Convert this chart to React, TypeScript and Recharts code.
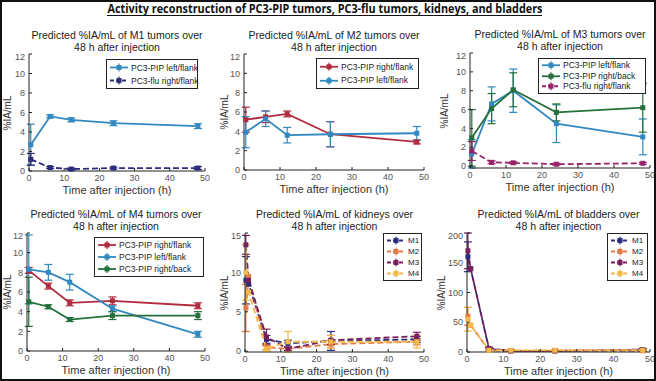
import { LineChart, Line, XAxis, YAxis, ErrorBar, Legend } from "recharts";

const tumorHours = [0.5, 6, 12, 24, 48];
const organHours = [0.25, 1, 6, 12, 24, 48];
const hourTicks = [0, 10, 20, 30, 40, 50];
const tumorTicks = [0, 2, 4, 6, 8, 10, 12];
const kidneyTicks = [0, 5, 10, 15];
const bladderTicks = [0, 50, 100, 150, 200];

// M1 tumors
const m1PipLeft = [2.7, 5.6, 5.25, 4.9, 4.6];
const m1PipLeftErr = [2.1, 0.15, 0.2, 0.25, 0.25];
const m1FluRight = [1.2, 0.35, 0.2, 0.3, 0.3];
const m1FluRightErr = [0.6, 0.1, 0.1, 0.1, 0.15];

// M2 tumors
const m2PipRight = [5.2, 5.5, 5.8, 3.7, 2.9];
const m2PipRightErr = [1.3, 0.6, 0.3, 1.3, 0.2];
const m2PipLeft = [3.9, 5.3, 3.6, 3.7, 3.8];
const m2PipLeftErr = [1.6, 0.8, 0.8, 1.3, 0.7];

// M3 tumors
const m3PipLeft = [1.3, 6.6, 8.0, 4.5, 3.1];
const m3PipLeftErr = [1.5, 1.8, 2.3, 2.0, 1.9];
const m3PipBack = [3.0, 6.1, 8.1, 5.7, 6.2];
const m3PipBackErr = [3.0, 1.6, 1.8, 0.9, 2.6];
const m3FluRight = [1.6, 0.4, 0.35, 0.2, 0.3];
const m3FluRightErr = [1.0, 0.15, 0.1, 0.1, 0.1];

// M4 tumors
const m4PipRight = [8.2, 6.6, 4.9, 5.1, 4.6];
const m4PipRightErr = [0.3, 0.3, 0.3, 0.4, 0.3];
const m4PipLeft = [8.3, 8.0, 7.0, 4.3, 1.7];
const m4PipLeftErr = [3.5, 0.8, 0.8, 0.3, 0.3];
const m4PipBack = [5.0, 4.5, 3.2, 3.6, 3.6];
const m4PipBackErr = [2.5, 0.2, 0.2, 0.4, 0.4];

// kidneys
const kidM1 = [9.0, 8.5, 1.5, 1.0, 1.3, 1.5];
const kidM1Err = [3.0, 0, 0.5, 0.4, 1.2, 0.4];
const kidM2 = [5.5, 9.5, 0.5, 0.3, 0.9, 1.2];
const kidM2Err = [3.0, 0, 0.3, 0.2, 0.5, 0.4];
const kidM3 = [13.5, 9.0, 1.8, 0.3, 1.4, 1.9];
const kidM3Err = [1.2, 0, 1.0, 0.2, 0.6, 0.5];
const kidM4 = [10.0, 7.5, 0.3, 1.2, 1.2, 1.2];
const kidM4Err = [3.5, 0, 0.3, 1.3, 0.8, 0.8];

// bladders
const bladM1 = [160, 140, 5, 2, 2, 3];
const bladM1Err = [25, 0, 2, 1, 1, 2];
const bladM2 = [60, 45, 3, 2, 2, 2];
const bladM2Err = [15, 0, 1, 1, 1, 1];
const bladM3 = [170, 140, 6, 2, 2, 4];
const bladM3Err = [30, 0, 2, 1, 1, 2];
const bladM4 = [55, 45, 3, 3, 3, 3];
const bladM4Err = [20, 0, 1, 1, 1, 1];

const BLUE = "#3189c0";
const RED = "#b22a3e";
const GREEN = "#25703a";
const NAVY = "#2c2c7c";
const MAGENTA = "#97246a";
const ORANGE = "#e57a41";
const PURPLE = "#77205c";
const GOLD = "#f3b949";

const FONT = '"Liberation Sans", Arial, sans-serif';

type Series = {
  key: string;
  name: string;
  color: string;
  dashed?: boolean;
  values: number[];
  errors: number[];
};

type LegendPos = { left: number; top: number; width: number; font: number; rowH: number };

type PanelProps = {
  x: number;
  y: number;
  w: number;
  h: number;
  title: string[];
  hours: number[];
  series: Series[];
  yTicks: number[];
  yLabelDx?: number;
  legend: LegendPos;
};

const buildRows = (hours: number[], series: Series[]) =>
  hours.map((hour, i) => {
    const row: Record<string, number> = { hour };
    series.forEach((s) => {
      row[s.key] = s.values[i];
      row[s.key + "Err"] = s.errors[i];
    });
    return row;
  });

const squareDot = (color: string) => (props: any) => {
  const { cx, cy, index } = props;
  if (cx == null || cy == null) return <g key={index} />;
  return <rect key={index} x={cx - 2.5} y={cy - 2.5} width={5} height={5} fill={color} stroke="none" />;
};

// legend drawn in series order (recharts sorts its payload by name)
function LegendBox({ series, pos }: { series: Series[]; pos: LegendPos }) {
  return (
    <div
      style={{
        border: "1px solid #222",
        background: "#fff",
        width: pos.width,
        padding: "1px 2px",
        boxSizing: "border-box",
        fontFamily: FONT,
      }}
    >
      {series.map((s) => {
        const mid = pos.rowH / 2;
        return (
          <div
            key={s.key}
            style={{
              display: "flex",
              alignItems: "center",
              height: pos.rowH,
              fontSize: pos.font,
              color: "#222",
              whiteSpace: "nowrap",
            }}
          >
            <svg width={20} height={pos.rowH} style={{ flex: "none" }}>
              <line x1={1} x2={19} y1={mid} y2={mid} stroke={s.color} strokeWidth={1.8} strokeDasharray={s.dashed ? "4 2" : undefined} />
              <line x1={10} x2={10} y1={mid - 4} y2={mid + 4} stroke={s.color} strokeWidth={1.2} />
              <rect x={7.5} y={mid - 2.5} width={5} height={5} fill={s.color} />
            </svg>
            <span style={{ marginLeft: 2 }}>{s.name}</span>
          </div>
        );
      })}
    </div>
  );
}

const AXIS = "#222";
const tickStyle = { fontSize: 9, fill: "#555", fontFamily: FONT };

function Panel({ x, y, w, h, title, hours, series, yTicks, yLabelDx = -21, legend }: PanelProps) {
  const rows = buildRows(hours, series);
  const padL = 32;
  const padT = 2;
  const padR = 10;
  const padB = 36;
  const yMax = yTicks[yTicks.length - 1];
  return (
    <>
      <div
        style={{
          position: "absolute",
          left: x - 20,
          top: y - 24,
          width: w + 40,
          textAlign: "center",
          fontSize: 10.5,
          lineHeight: "11.5px",
          color: "#222",
        }}
      >
        {title.map((t) => (
          <div key={t}>{t}</div>
        ))}
      </div>
      <div
        style={{
          position: "absolute",
          left: x,
          top: y + h + 13,
          width: w,
          textAlign: "center",
          fontSize: 11,
          lineHeight: "13px",
          color: "#333",
        }}
      >
        Time after injection (h)
      </div>
      <div
        style={{
          position: "absolute",
          left: x + yLabelDx - 40,
          top: y + h / 2 - 6,
          width: 80,
          height: 12,
          lineHeight: "12px",
          textAlign: "center",
          fontSize: 10,
          color: "#333",
          transform: "rotate(-90deg)",
        }}
      >
        %IA/mL
      </div>
      <div style={{ position: "absolute", left: x - padL, top: y - padT }}>
        <LineChart
          width={w + padL + padR}
          height={h + padT + padB}
          data={rows}
          margin={{ top: padT, right: padR, bottom: 0, left: 0 }}
        >
          <XAxis
            dataKey="hour"
            type="number"
            domain={[0, 50]}
            ticks={hourTicks}
            height={padB}
            stroke={AXIS}
            tickSize={-3}
            tickMargin={7}
            tick={tickStyle}
          />
          <XAxis
            xAxisId="top"
            orientation="top"
            dataKey="hour"
            type="number"
            domain={[0, 50]}
            ticks={hourTicks}
            height={0}
            stroke={AXIS}
            tickSize={-3}
            tickFormatter={() => ""}
          />
          <YAxis
            type="number"
            domain={[0, yMax]}
            ticks={yTicks}
            width={padL}
            stroke={AXIS}
            tickSize={-3}
            tickMargin={7}
            tick={tickStyle}
          />
          <YAxis
            yAxisId="right"
            orientation="right"
            type="number"
            domain={[0, yMax]}
            ticks={yTicks}
            width={0}
            stroke={AXIS}
            tickSize={-3}
            tickFormatter={() => ""}
          />
          <Legend
            layout="horizontal"
            verticalAlign="middle"
            align="center"
            wrapperStyle={{ left: padL + legend.left, top: padT + legend.top, width: legend.width }}
            content={() => <LegendBox series={series} pos={legend} />}
          />
          {series.map((s) => (
            <Line
              key={s.key}
              dataKey={s.key}
              name={s.name}
              type="linear"
              stroke={s.color}
              strokeWidth={1.8}
              strokeDasharray={s.dashed ? "6 3" : undefined}
              dot={squareDot(s.color)}
              activeDot={false}
              isAnimationActive={false}
            >
              <ErrorBar dataKey={s.key + "Err"} direction="y" width={4} stroke={s.color} strokeWidth={1.2} />
            </Line>
          ))}
        </LineChart>
      </div>
    </>
  );
}

const panelTitle = (what: string) => [`Predicted %IA/mL of ${what} over`, "48 h after injection"];

export default function App() {
  const m1: Series[] = [
    { key: "pipLeft", name: "PC3-PIP left/flank", color: BLUE, values: m1PipLeft, errors: m1PipLeftErr },
    { key: "fluRight", name: "PC3-flu right/flank", color: NAVY, dashed: true, values: m1FluRight, errors: m1FluRightErr },
  ];
  const m2: Series[] = [
    { key: "pipRight", name: "PC3-PIP right/flank", color: RED, values: m2PipRight, errors: m2PipRightErr },
    { key: "pipLeft", name: "PC3-PIP left/flank", color: BLUE, values: m2PipLeft, errors: m2PipLeftErr },
  ];
  const m3: Series[] = [
    { key: "pipLeft", name: "PC3-PIP left/flank", color: BLUE, values: m3PipLeft, errors: m3PipLeftErr },
    { key: "pipBack", name: "PC3-PIP right/back", color: GREEN, values: m3PipBack, errors: m3PipBackErr },
    { key: "fluRight", name: "PC3-flu right/flank", color: MAGENTA, dashed: true, values: m3FluRight, errors: m3FluRightErr },
  ];
  const m4: Series[] = [
    { key: "pipRight", name: "PC3-PIP right/flank", color: RED, values: m4PipRight, errors: m4PipRightErr },
    { key: "pipLeft", name: "PC3-PIP left/flank", color: BLUE, values: m4PipLeft, errors: m4PipLeftErr },
    { key: "pipBack", name: "PC3-PIP right/back", color: GREEN, values: m4PipBack, errors: m4PipBackErr },
  ];
  const kidneys: Series[] = [
    { key: "m1", name: "M1", color: NAVY, dashed: true, values: kidM1, errors: kidM1Err },
    { key: "m2", name: "M2", color: ORANGE, dashed: true, values: kidM2, errors: kidM2Err },
    { key: "m3", name: "M3", color: PURPLE, dashed: true, values: kidM3, errors: kidM3Err },
    { key: "m4", name: "M4", color: GOLD, dashed: true, values: kidM4, errors: kidM4Err },
  ];
  const bladders: Series[] = [
    { key: "m1", name: "M1", color: NAVY, dashed: true, values: bladM1, errors: bladM1Err },
    { key: "m2", name: "M2", color: ORANGE, dashed: true, values: bladM2, errors: bladM2Err },
    { key: "m3", name: "M3", color: PURPLE, dashed: true, values: bladM3, errors: bladM3Err },
    { key: "m4", name: "M4", color: GOLD, dashed: true, values: bladM4, errors: bladM4Err },
  ];

  return (
    <div
      style={{
        position: "absolute",
        left: 0,
        top: 0,
        width: 656,
        height: 381,
        background: "#fff",
        overflow: "hidden",
        fontFamily: FONT,
      }}
    >
      <svg width={656} height={22} style={{ position: "absolute", left: 0, top: 0 }}>
        <text
          x={325}
          y={13}
          textAnchor="middle"
          fontSize={13}
          fontWeight="bold"
          fill="#111"
          fontFamily='"Open Sans", "Liberation Sans", sans-serif'
          textLength={435}
          lengthAdjust="spacingAndGlyphs"
        >
          Activity reconstruction of PC3-PIP tumors, PC3-flu tumors, kidneys, and bladders
        </text>
        <line x1={107} x2={542} y1={15.5} y2={15.5} stroke="#111" strokeWidth={1} />
      </svg>

      <Panel x={29} y={54} w={176} h={117} title={panelTitle("M1 tumors")} hours={tumorHours} series={m1} yTicks={tumorTicks}
        legend={{ left: 77, top: 5, width: 92, font: 8.5, rowH: 13 }} />
      <Panel x={244} y={54} w={180} h={116} title={panelTitle("M2 tumors")} hours={tumorHours} series={m2} yTicks={tumorTicks}
        yLabelDx={-19} legend={{ left: 72, top: 4, width: 103, font: 8.5, rowH: 13.5 }} />
      <Panel x={470} y={53} w={180} h={115} title={panelTitle("M3 tumors")} hours={tumorHours} series={m3} yTicks={tumorTicks}
        yLabelDx={-25} legend={{ left: 68, top: 5, width: 108, font: 8.5, rowH: 10.5 }} />
      <Panel x={27} y={233} w={178} h={118} title={panelTitle("M4 tumors")} hours={tumorHours} series={m4} yTicks={tumorTicks}
        yLabelDx={-19} legend={{ left: 67, top: 4, width: 110, font: 8.5, rowH: 12 }} />
      <Panel x={245} y={233} w={179} h={119} title={panelTitle("kidneys")} hours={organHours} series={kidneys} yTicks={kidneyTicks}
        yLabelDx={-20} legend={{ left: 138, top: 0, width: 39, font: 8, rowH: 11 }} />
      <Panel x={467} y={233} w={183} h={119} title={panelTitle("bladders")} hours={organHours} series={bladders} yTicks={bladderTicks}
        yLabelDx={-25} legend={{ left: 140, top: 0, width: 41, font: 8, rowH: 11 }} />

      <div
        style={{
          position: "absolute",
          left: 0,
          top: 0,
          width: 656,
          height: 381,
          border: "2px solid #111",
          boxSizing: "border-box",
          pointerEvents: "none",
        }}
      />
    </div>
  );
}
